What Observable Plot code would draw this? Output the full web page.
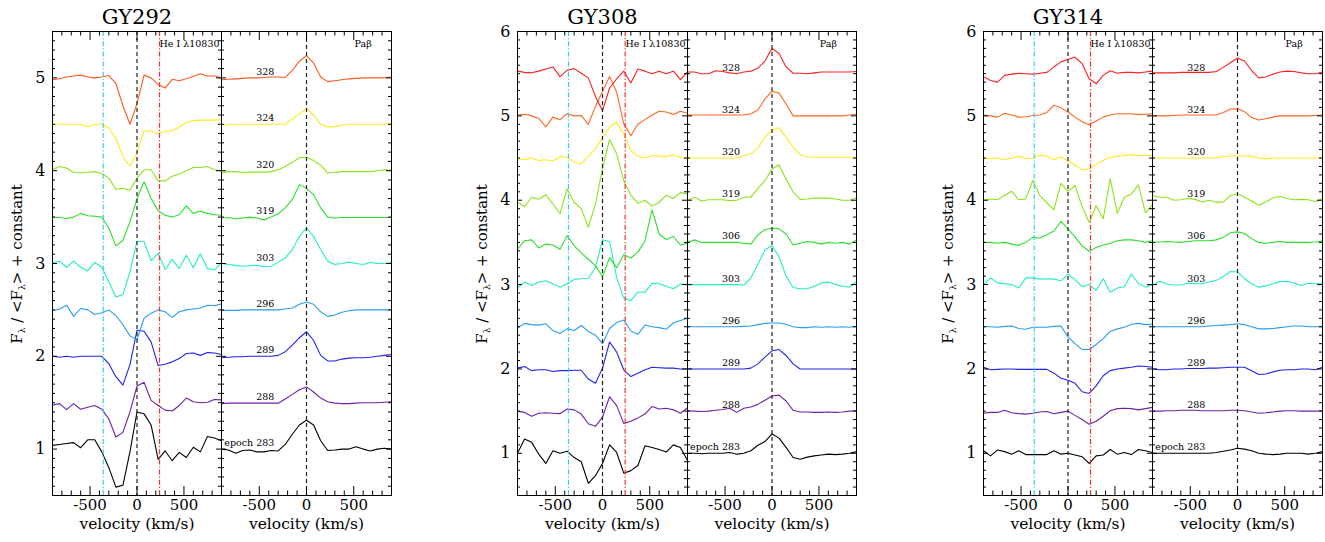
<!DOCTYPE html>
<html>
<head>
<meta charset="utf-8">
<script src="https://cdn.jsdelivr.net/npm/d3@7"></script>
<script src="https://cdn.jsdelivr.net/npm/@observablehq/plot@0.6"></script>
<style>
  body { margin: 0; background: #fff; }
  #chart { position: relative; width: 1325px; height: 542px; overflow: hidden; font-family: "DejaVu Serif", serif; }
  #chart svg text { font-family: "DejaVu Serif", serif; }
  .ylab { position: absolute; white-space: nowrap; font-size: 15px; color: #000;
          transform: translate(-50%, -50%) rotate(-90deg); }
  .ylab sub { font-size: 0.6em; vertical-align: -0.35em; line-height: 0; }
</style>
</head>
<body>
<div id="chart"></div>
<script>
// ---------- data ----------
const velocity = [-900,-825,-750,-675,-600,-525,-450,-375,-300,-225,-150,-75,0,75,150,225,300,375,450,525,600,675,750,825,900];
const epochs292 = [283,288,289,296,303,319,320,324,328];
const epochs308 = [283,288,289,296,303,306,319,320,324,328];
const epochs314 = [283,288,289,296,303,306,319,320,324,328];
const baseline292 = [1,1.5,2,2.5,3,3.5,4,4.5,5];
const baseline308 = [1,1.5,2,2.5,3,3.5,4,4.5,5,5.5];
const baseline314 = [1,1.5,2,2.5,3,3.5,4,4.5,5,5.5];
const colors292 = ["#000000","#6e22a6","#2222ee","#2a9cf8","#22eec4","#2ee02e","#8ee41a","#ffea1e","#ff5a1e"];
const colors308 = ["#000000","#6e22a6","#2222ee","#2a9cf8","#22eec4","#2ee02e","#8ee41a","#ffea1e","#ff661e","#ff2020"];
const colors314 = colors308;
const heMarkers = [-360, 240];      // blue / red dash-dot reference velocities (He I panel)
const tickVel = [-500, 0, 500];
const tickFlux292 = [1,2,3,4,5];
const tickFlux308 = [1,2,3,4,5,6];
const tickFlux314 = [1,2,3,4,5,6];

// F_lambda/<F_lambda> - 1, one row per epoch (same order as epochs arrays), sampled on `velocity`
const gy292He = [
  [0.04,0.05,0.06,0.07,0.015, 0.10,0.10,-0.03,-0.20,-0.41, -0.39,-0.03,0.40,0.38,0.26, -0.11,-0.02,-0.125,-0.035,-0.09, 0.02,-0.03,0.135,0.12,0.09],
  [-0.025,-0.01,-0.075,-0.01,-0.07, -0.05,-0.03,-0.07,-0.175,-0.37, -0.32,-0.10,0.18,0.22,0.025, -0.03,-0.08,-0.09,-0.03,0.05, 0.01,0.0,0.005,0.035,0.03],
  [0.0,-0.01,0.0,-0.01,0.0, 0.0,0.0,0.0,-0.08,-0.22, -0.31,-0.09,0.28,0.27,0.155, -0.10,-0.085,-0.06,-0.025,0.03, 0.035,0.01,0.04,0.035,0.02],
  [-0.01,0.01,0.05,-0.07,0.015, 0.0,-0.05,-0.03,0.0,-0.06, -0.16,-0.28,-0.32,-0.09,-0.035, 0.0,-0.02,-0.08,-0.02,0.0, 0.01,0.02,0.05,0.045,0.065],
  [0.01,0.025,-0.04,0.025,-0.04, -0.08,0.01,-0.04,-0.20,-0.36, -0.335,-0.09,0.24,0.235,0.03, 0.11,-0.065,0.045,-0.055,0.09, -0.045,0.105,-0.055,-0.07,0.01],
  [0.0,-0.005,-0.015,0.0,0.04, 0.015,0.01,0.0,-0.12,-0.31, -0.25,-0.05,0.2,0.38,0.2, 0.07,0.02,0.0,0.025,0.12, 0.04,0.065,0.04,0.025,0.02],
  [0.01,0.045,0.03,-0.02,-0.025, -0.02,-0.01,-0.03,-0.08,-0.20, -0.19,-0.21,-0.08,0.01,0.01, -0.11,-0.11,-0.06,-0.035,0.0, 0.035,0.035,0.045,0.01,0.0],
  [0.0,0.0,0.0,0.0,0.0, -0.03,0.0,0.0,-0.04,-0.15, -0.35,-0.45,-0.31,-0.07,-0.075, -0.10,-0.075,-0.07,-0.03,0.02, 0.04,0.045,0.045,0.045,0.05],
  [-0.02,-0.01,0.01,0.02,0.03, 0.01,0.0,0.01,0.025,-0.06, -0.30,-0.50,-0.28,0.03,0.0, -0.07,-0.11,-0.015,-0.03,-0.01, 0.015,0.045,0.02,0.02,0.0]
];
const gy292Pa = [
  [0.0,-0.01,-0.045,-0.015,-0.01, -0.03,-0.03,-0.015,-0.02,0.05, 0.16,0.26,0.31,0.26,0.09, -0.015,-0.01,0.0,0.0,0.025, 0.0,-0.02,0.0,0.01,0.0],
  [-0.01,-0.005,-0.005,-0.005,-0.005, -0.005,-0.005,-0.005,-0.005,0.04, 0.09,0.14,0.17,0.115,0.05, 0.01,-0.005,-0.01,-0.01,-0.005, 0.0,0.0,0.0,0.005,0.01],
  [-0.015,-0.01,-0.005,-0.005,0.0, 0.0,0.0,0.0,0.01,0.05, 0.12,0.2,0.265,0.17,0.01, -0.05,-0.05,-0.03,-0.02,-0.015, -0.015,-0.01,0.0,0.01,0.02],
  [-0.005,-0.005,-0.005,0.0,0.0, 0.0,0.0,0.0,0.0,0.01, 0.02,0.06,0.085,0.06,-0.02, -0.07,-0.055,-0.025,-0.01,0.0, 0.0,0.0,0.0,0.0,0.0],
  [0.0,-0.01,-0.02,-0.03,-0.025, -0.02,-0.035,-0.03,0.015,0.06, 0.15,0.29,0.385,0.29,0.15, 0.025,-0.01,0.0,0.015,0.0, -0.01,0.01,0.0,0.0,0.01],
  [-0.01,-0.005,-0.02,-0.01,0.0, -0.01,-0.03,0.0,0.035,0.1, 0.19,0.35,0.31,0.24,0.10, 0.0,-0.01,-0.005,-0.005,-0.005, -0.005,-0.005,-0.005,-0.005,-0.005],
  [-0.025,-0.01,-0.01,-0.02,-0.015, -0.015,-0.015,-0.01,0.01,0.045, 0.09,0.14,0.145,0.11,0.06, -0.025,-0.02,-0.01,-0.01,-0.01, -0.01,-0.01,0.0,0.01,0.005],
  [-0.01,-0.005,0.0,0.0,0.0, 0.0,0.0,0.0,0.0,0.0, 0.06,0.11,0.17,0.10,0.0, -0.03,-0.025,-0.01,0.0,0.0, 0.0,0.0,0.0,0.0,0.01],
  [-0.02,-0.015,-0.01,-0.005,0.0, 0.0,0.005,0.01,0.01,0.005, 0.08,0.18,0.24,0.16,0.01, -0.04,-0.03,-0.02,-0.01,-0.005, 0.0,0.0,0.0,0.0,0.01]
];
const gy308He = [
  [0.0,0.17,0.13,-0.01,-0.12, 0.03,0.0,0.025,-0.05,-0.1, -0.355,-0.265,-0.12,0.1,0.01, -0.235,-0.205,-0.145,0.09,0.07, 0.045,0.015,0.1,0.07,-0.085],
  [0.0,-0.015,-0.06,-0.025,-0.02, -0.025,-0.03,0.025,0.015,-0.035, -0.15,-0.18,-0.07,0.17,0.065, -0.145,-0.12,-0.08,-0.035,0.055, 0.025,0.035,0.015,-0.025,0.04],
  [0.01,0.03,-0.02,-0.01,-0.01, -0.03,-0.02,-0.02,-0.015,-0.015, -0.12,-0.17,0.01,0.32,0.2, -0.01,-0.09,-0.05,-0.01,0.02, 0.015,0.01,0.01,0.0,0.0],
  [-0.015,0.04,0.025,0.02,0.035, -0.045,-0.08,-0.025,-0.045,0.015, -0.055,-0.1,-0.2,-0.02,0.05, 0.08,-0.05,-0.09,0.02,0.0, -0.01,-0.03,0.045,0.075,0.1],
  [-0.04,0.03,-0.01,0.03,0.045, 0.01,-0.03,0.01,0.06,0.07, 0.075,0.2,0.53,0.51,0.085, -0.16,-0.19,-0.09,-0.09,0.015, 0.01,-0.02,-0.05,0.005,0.0],
  [-0.08,0.02,0.03,-0.065,-0.02, -0.03,-0.08,0.08,-0.04,-0.125, -0.2,-0.275,-0.405,-0.18,-0.3, -0.145,-0.185,-0.115,0.02,0.385, 0.1,0.035,0.07,-0.03,-0.01],
  [-0.025,-0.075,0.035,0.012,0.063, -0.043,-0.16,0.134,-0.024,-0.1, -0.32,-0.05,0.38,0.72,0.55, 0.23,0.06,-0.036,0.0,-0.07, -0.024,0.06,0.02,0.09,0.075],
  [-0.01,-0.02,0.0,-0.03,-0.02, -0.035,0.015,0.01,-0.05,-0.07, 0.02,0.11,0.245,0.365,0.425, 0.285,0.09,0.02,0.0,0.03, 0.02,0.02,0.035,0.01,-0.01],
  [0.01,0.02,0.0,-0.03,-0.13, -0.015,-0.045,0.025,0.0,0.005, -0.1,0.11,0.29,0.465,0.28, -0.095,-0.235,-0.1,-0.045,0.01, 0.055,0.045,0.015,0.055,0.03],
  [0.03,0.015,0.01,0.03,0.055, 0.08,-0.035,0.04,0.06,0.005, -0.05,-0.27,-0.44,-0.17,-0.06, 0.03,-0.11,0.055,0.03,0.0, 0.03,0.0,0.03,-0.07,0.02]
];
const gy308Pa = [
  [0.0,0.0,-0.005,0.0,0.0, 0.0,0.01,-0.01,0.0,0.03, 0.095,0.14,0.23,0.18,0.07, -0.05,-0.07,-0.045,-0.03,-0.02, -0.01,-0.015,-0.01,0.0,0.02],
  [0.005,0.0,-0.005,0.0,0.01, 0.02,0.035,-0.015,0.035,0.05, 0.08,0.13,0.18,0.19,0.12, 0.01,-0.01,-0.01,-0.015,-0.015, -0.01,-0.015,-0.01,0.0,0.005],
  [0.0,0.0,0.0,0.0,0.0, 0.0,0.0,0.0,0.0,0.01, 0.06,0.14,0.215,0.23,0.16, 0.06,0.0,0.0,0.0,0.0, 0.0,0.0,0.0,0.0,0.0],
  [0.0,0.0,0.0,0.0,0.0, 0.0,0.0,0.0,0.005,0.01, 0.025,0.04,0.045,0.045,0.03, 0.0,-0.01,-0.01,0.0,-0.005, 0.0,-0.005,0.0,-0.005,0.005],
  [0.0,0.0,0.0,0.0,0.0, 0.0,0.0,0.0,-0.005,0.08, 0.245,0.41,0.46,0.33,0.1, -0.035,-0.05,-0.05,-0.02,0.02, 0.03,0.0,-0.02,-0.03,0.03],
  [0.0,0.03,0.0,0.0,0.0, 0.0,0.0,0.0,-0.01,-0.02, 0.09,0.15,0.17,0.16,0.1, -0.03,-0.01,0.01,0.0,-0.02, 0.0,-0.01,0.0,-0.02,0.03],
  [0.0,0.035,-0.01,0.005,0.005, 0.005,-0.005,0.0,0.035,0.04, 0.14,0.23,0.37,0.42,0.25, 0.1,0.01,0.015,0.025,0.025, 0.025,0.015,0.0,0.0,0.03],
  [0.0,0.0,0.0,0.0,0.0, 0.0,0.0,0.0,0.03,0.05, 0.12,0.25,0.33,0.36,0.245, 0.13,0.04,0.015,0.01,0.01, 0.01,0.01,0.01,0.01,0.01],
  [0.01,0.01,0.01,0.01,0.01, 0.01,0.01,0.01,0.01,0.025, 0.07,0.2,0.29,0.27,0.14, 0.0,0.0,0.0,0.0,0.0, 0.0,0.0,0.0,0.01,0.02],
  [0.02,0.02,0.0,0.0,0.035, 0.025,0.01,0.0,0.02,0.03, 0.065,0.15,0.3,0.24,0.08, 0.005,0.005,0.0,0.01,0.02, 0.02,0.02,0.02,0.02,0.025]
];
const gy314He = [
  [0.03,-0.03,0.04,0.02,-0.01, 0.03,-0.015,-0.015,-0.015,-0.015, 0.03,-0.01,0.0,-0.02,-0.04, -0.12,-0.03,-0.02,0.045,-0.01, 0.01,-0.015,0.045,0.03,0.01],
  [-0.025,-0.015,-0.015,0.01,-0.02, -0.03,-0.035,-0.025,-0.01,-0.005, -0.03,-0.015,0.0,-0.05,-0.1, -0.155,-0.12,-0.06,0.005,0.03, 0.035,0.03,0.015,0.03,0.045],
  [0.02,-0.01,-0.005,0.0,0.0, -0.005,-0.005,-0.005,-0.005,-0.005, -0.05,-0.11,-0.135,-0.17,-0.27, -0.29,-0.2,-0.08,-0.02,0.0, 0.01,0.02,0.035,0.03,0.02],
  [0.0,0.0,-0.005,0.005,0.01, -0.02,-0.03,-0.005,-0.005,-0.005, 0.005,0.01,-0.12,-0.2,-0.27, -0.27,-0.21,-0.14,-0.055,-0.025, -0.005,0.03,0.04,0.025,0.03],
  [0.0,0.08,0.02,0.01,0.0, -0.04,0.08,0.08,0.065,0.07, 0.065,0.045,0.125,0.055,-0.025, 0.0,-0.07,0.07,-0.09,-0.04, -0.025,0.125,0.01,-0.03,0.0],
  [0.0,0.0,-0.01,0.0,-0.02, -0.035,0.0,0.06,0.05,0.09, 0.135,0.25,0.16,0.065,-0.04, -0.105,-0.06,-0.03,-0.01,0.02, 0.03,0.03,0.02,0.0,0.02],
  [0.0,0.015,0.005,0.06,0.107, 0.005,0.016,0.233,0.055,-0.03, -0.115,0.2,0.105,0.174,-0.075, -0.26,-0.063,-0.22,0.253,-0.154, 0.036,0.075,0.182,-0.15,-0.05],
  [-0.01,-0.005,0.0,-0.02,0.0, 0.02,-0.005,0.0,0.035,0.025, -0.02,0.015,-0.035,-0.085,-0.14, -0.13,-0.075,-0.03,0.01,0.02, 0.03,0.04,0.03,0.03,0.03],
  [0.01,0.0,-0.015,0.03,0.01, -0.015,-0.01,0.005,0.01,0.04, 0.125,0.095,0.045,-0.015,-0.07, -0.105,-0.06,-0.015,0.01,0.025, 0.025,0.025,0.015,0.02,0.025],
  [-0.035,-0.08,-0.1,-0.02,-0.005, 0.005,0.0,-0.005,0.005,0.015, 0.08,0.14,0.17,0.195,0.12, -0.06,-0.12,-0.02,0.035,0.005, 0.015,0.015,0.01,0.02,0.03]
];
const gy314Pa = [
  [0.0,0.0,0.0,0.0,0.0, 0.0,0.0,0.0,0.0,0.01, 0.025,0.04,0.06,0.05,0.03, 0.0,-0.01,-0.015,-0.01,0.0, 0.0,0.0,-0.01,0.0,0.02],
  [0.0,0.0,0.005,0.005,0.01, 0.01,0.01,0.005,0.005,0.005, 0.005,0.01,0.01,0.005,-0.01, -0.025,-0.02,-0.01,0.0,0.005, 0.005,0.0,0.0,0.0,0.005],
  [0.0,-0.01,-0.01,0.0,0.0, 0.005,0.005,0.005,0.01,0.01, 0.015,0.02,0.02,0.02,-0.02, -0.065,-0.06,-0.035,-0.015,-0.01, -0.01,0.0,0.0,-0.01,0.02],
  [0.0,0.0,0.0,0.0,0.0, 0.0,0.0,0.0,0.01,0.015, 0.02,0.025,0.035,0.025,0.0, -0.025,-0.025,-0.02,-0.01,0.0, 0.01,0.01,0.0,0.0,0.0],
  [-0.01,0.04,0.01,-0.005,-0.005, 0.015,0.01,0.01,0.03,0.05, 0.095,0.155,0.15,0.07,0.01, -0.03,-0.015,0.01,0.035,0.04, 0.015,-0.01,0.015,0.01,0.01],
  [0.0,0.005,0.01,0.005,0.0, 0.01,0.02,0.02,0.02,0.03, 0.06,0.115,0.125,0.105,0.045, 0.0,-0.01,0.0,0.01,0.0, 0.0,0.0,0.0,0.005,0.015],
  [0.055,0.035,0.035,0.0,0.005, 0.02,0.01,-0.02,0.0,-0.025, -0.02,0.055,0.08,0.035,-0.01, -0.06,-0.02,0.03,0.045,0.02, 0.005,0.01,0.005,-0.015,0.015],
  [0.0,0.0,0.0,0.0,0.0, 0.0,0.0,0.0,0.0,0.005, 0.015,0.025,0.025,0.025,0.02, 0.0,-0.01,0.0,0.0,0.0, 0.0,0.0,0.0,0.0,0.0],
  [0.005,0.0,0.0,0.005,0.01, 0.01,0.01,0.01,0.01,0.01, 0.04,0.08,0.085,0.05,-0.02, -0.05,-0.035,-0.015,0.0,0.0, 0.0,0.0,0.0,0.005,0.01],
  [0.01,0.01,0.01,0.01,0.015, 0.015,0.015,0.015,0.015,0.025, 0.075,0.13,0.185,0.15,0.035, -0.05,-0.04,-0.005,0.02,0.03, 0.025,0.01,0.0,0.0,0.02]
];

// ---------- drawing ----------
const chart = document.getElementById("chart");
const H = 542, MT = 31, MB = 47;
const FONT = "DejaVu Serif";

function subpanel(cfg) {
  const fw = cfg.frameRight - cfg.frameLeft;
  const fh = H - MT - MB;
  const left = cfg.kind === "He" ? cfg.frameLeft - 52 : cfg.frameLeft - 1;
  const width = cfg.frameRight + 1 - left;
  const xMinor = d3.range(-800, 801, 100).filter(d => d % 500 !== 0);
  const [y0, y1] = cfg.yDomain;
  const yAll = d3.range(Math.round(y0 * 10), Math.round(y1 * 10) + 1).map(k => k / 10);
  const yMajor = yAll.filter(d => Math.abs(d - Math.round(d)) < 1e-6);
  const yMinor = yAll.filter(d => Math.abs(d - Math.round(d)) >= 1e-6);
  const T = {fontFamily: FONT, fill: "#000"};

  const marks = [];
  cfg.epochs.forEach((ep, i) => {
    const rows = velocity.map((v, j) => ({v, y: cfg.baselines[i] + cfg.values[i][j]}));
    marks.push(Plot.line(rows, {x: "v", y: "y", stroke: cfg.colors[i], strokeWidth: 1.1}));
  });
  if (cfg.kind === "He") {
    marks.push(Plot.ruleX([heMarkers[0]], {x: d => d, stroke: "#3ccbf0", strokeWidth: 1.2, strokeDasharray: "5,2,1.2,2"}));
    marks.push(Plot.ruleX([heMarkers[1]], {x: d => d, stroke: "#f23232", strokeWidth: 1.2, strokeDasharray: "5,2,1.2,2"}));
  }
  marks.push(Plot.ruleX([0], {x: d => d, stroke: "#222", strokeWidth: 1.2, strokeDasharray: "4,3"}));

  // inward ticks on all four sides
  marks.push(Plot.tickX(tickVel, {x: d => d, insetTop: fh - 9, stroke: "#000"}));
  marks.push(Plot.tickX(xMinor, {x: d => d, insetTop: fh - 4.5, stroke: "#000"}));
  marks.push(Plot.tickX(tickVel, {x: d => d, insetBottom: fh - 9, stroke: "#000"}));
  marks.push(Plot.tickX(xMinor, {x: d => d, insetBottom: fh - 4.5, stroke: "#000"}));
  marks.push(Plot.tickY(yMajor, {y: d => d, insetRight: fw - 5, stroke: "#000"}));
  marks.push(Plot.tickY(yMinor, {y: d => d, insetRight: fw - 3, stroke: "#000"}));
  marks.push(Plot.tickY(yMajor, {y: d => d, insetLeft: fw - 5, stroke: "#000"}));
  marks.push(Plot.tickY(yMinor, {y: d => d, insetLeft: fw - 3, stroke: "#000"}));
  marks.push(Plot.frame({stroke: "#000", strokeWidth: 1}));

  // x tick labels and title
  marks.push(Plot.text(tickVel, {...T, x: d => d, text: d => String(d), frameAnchor: "bottom", dy: 4, lineAnchor: "top", fontSize: 15}));
  marks.push(Plot.text(["velocity (km/s)"], {...T, frameAnchor: "bottom", dy: 22, lineAnchor: "top", fontSize: 15.5}));

  if (cfg.kind === "He") {
    marks.push(Plot.text(cfg.yTicks, {...T, y: d => d, text: d => String(d), frameAnchor: "left", dx: -7, textAnchor: "end", fontSize: 16}));
    marks.push(Plot.text([cfg.title], {...T, frameAnchor: "top", dy: -8, lineAnchor: "bottom", fontSize: 21}));
    marks.push(Plot.text(["He I λ10830"], {...T, frameAnchor: "top-right", dx: -2, dy: 9, lineAnchor: "top", textAnchor: "end", fontSize: 9.5}));
  } else {
    marks.push(Plot.text(["Paβ"], {...T, x: () => 600, frameAnchor: "top", dy: 9, lineAnchor: "top", fontSize: 9.5}));
    marks.push(Plot.text(cfg.epochs, {
      ...T,
      x: () => -340, y: (d, i) => cfg.baselines[i],
      text: (d, i) => (i === 0 ? "epoch " + d : String(d)),
      textAnchor: "end", lineAnchor: "bottom", dy: -3, fontSize: 9.5
    }));
  }

  const svg = Plot.plot({
    width, height: H,
    marginTop: MT, marginBottom: MB,
    marginLeft: cfg.frameLeft - left, marginRight: left + width - cfg.frameRight,
    x: {domain: [-900, 900], axis: null},
    y: {domain: cfg.yDomain, axis: null},
    style: {fontFamily: FONT, background: "transparent", overflow: "visible", color: "#000"},
    marks
  });
  const div = document.createElement("div");
  div.style.cssText = `position:absolute;left:${left}px;top:0;width:${width}px;height:${H}px;`;
  div.appendChild(svg);
  chart.appendChild(div);

  if (cfg.kind === "He") {
    const lab = document.createElement("div");
    lab.className = "ylab";
    lab.innerHTML = "F<sub>λ</sub> / &lt;F<sub>λ</sub>&gt; + constant";
    lab.style.left = (cfg.frameLeft - 35) + "px";
    lab.style.top = "264px";
    chart.appendChild(lab);
  }
}

const panels = [
  {title: "GY292", he: [52, 221], pa: [221, 391], yDomain: [0.5, 5.5], epochs: epochs292, baselines: baseline292, colors: colors292, heV: gy292He, paV: gy292Pa, yTicks: tickFlux292},
  {title: "GY308", he: [517, 687], pa: [687, 856], yDomain: [0.5, 6], epochs: epochs308, baselines: baseline308, colors: colors308, heV: gy308He, paV: gy308Pa, yTicks: tickFlux308},
  {title: "GY314", he: [983, 1152], pa: [1152, 1322], yDomain: [0.5, 6], epochs: epochs314, baselines: baseline314, colors: colors314, heV: gy314He, paV: gy314Pa, yTicks: tickFlux314}
];
for (const p of panels) {
  subpanel({kind: "He", title: p.title, frameLeft: p.he[0], frameRight: p.he[1], yDomain: p.yDomain, epochs: p.epochs, baselines: p.baselines, colors: p.colors, values: p.heV, yTicks: p.yTicks});
  subpanel({kind: "Pa", title: p.title, frameLeft: p.pa[0], frameRight: p.pa[1], yDomain: p.yDomain, epochs: p.epochs, baselines: p.baselines, colors: p.colors, values: p.paV, yTicks: p.yTicks});
}
</script>
</body>
</html>
